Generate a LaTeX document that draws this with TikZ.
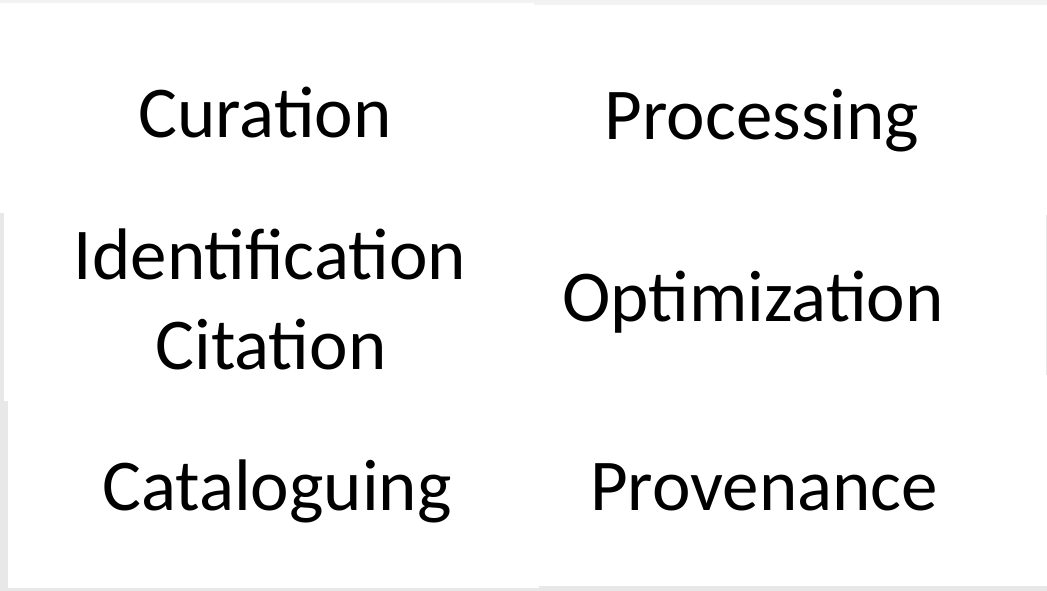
\documentclass[tikz,border=0pt]{standalone}
\usepackage{fontspec}
\setmainfont{Carlito}
\usetikzlibrary{positioning}
\definecolor{edgegray}{HTML}{E8E8E8}
\definecolor{topgray}{HTML}{F2F2F2}
\tikzset{
	cell/.style={fill=white, draw=none},
	word/.style={anchor=base, inner sep=0pt, font=\fontsize{73}{80}\selectfont}
}
\begin{document}
\begin{tikzpicture}[x=1pt, y=1pt, node distance=0.5cm and 0.1cm]
		\useasboundingbox (0,0) rectangle (1047,591);
		\fill[edgegray] (0,0) rectangle (1047,591);
		\fill[topgray] (0,578) rectangle (1047,591);
		%cells of the collage
		\fill[cell] (0,378) rectangle (534,588);
		\fill[cell] (534,376) rectangle (1047,586);
		\fill[cell] (4,190) rectangle (534,378);
		\fill[cell] (534,190) rectangle (1047,376);
		\fill[cell] (8,3) rectangle (539,190);
		\fill[cell] (539,5) rectangle (1047,190);
		\draw[edgegray, line width=1pt] (1046.5,376) -- (1046.5,216);
		%labels
		\node[word] (cur) at (265,453) {Curation};
		\node[word] (proc) at (762,451) {Processing};
		\node[word] (ident) at (270,311) {Identification};
		\node[word] (cit) at (271,221) {Citation};
		\node[word] (opt) at (753,269) {Optimization};
		\node[word] (cat) at (277,80) {Cataloguing};
		\node[word] (prov) at (764,80) {Provenance};
		\end{tikzpicture}
\end{document}
